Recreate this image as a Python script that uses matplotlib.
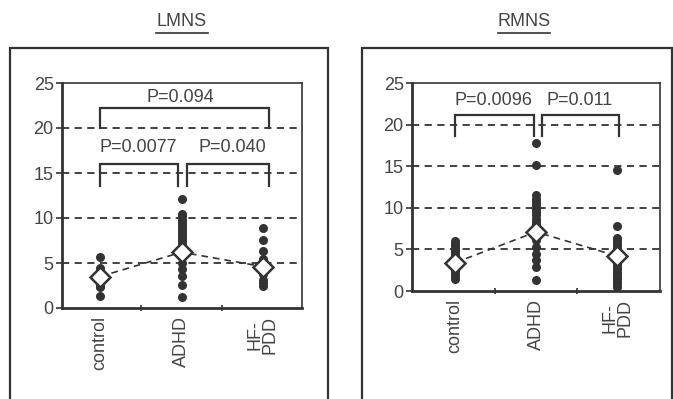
import matplotlib.pyplot as plt
from matplotlib.patches import Rectangle
from matplotlib.lines import Line2D

plt.rcParams['font.family'] = ['Liberation Sans', 'DejaVu Sans']

groups = ["control", "ADHD", "HF-\nPDD"]

# LMNS values
lmns_control = [5.7, 4.4, 4.0, 3.2, 2.8, 2.5, 2.3, 1.3]
lmns_adhd = [12.1, 10.5, 10.2, 9.8, 9.5, 9.2, 8.9, 8.6, 8.3, 8.0, 7.7, 7.4,
             7.1, 6.8, 6.5, 5.7, 5.0, 4.3, 3.6, 2.6, 1.2]
lmns_hfpdd = [8.9, 7.6, 6.3, 5.4, 3.8, 3.1, 2.8, 2.5]
lmns_means = [3.5, 6.2, 4.6]

# RMNS values
rmns_control = [6.0, 5.7, 5.4, 5.1, 4.8, 4.5, 4.2, 3.9, 3.6, 3.0, 2.7, 2.4,
                2.1, 1.8, 1.5]
rmns_adhd = [17.8, 15.2, 11.5, 11.1, 10.7, 10.3, 9.9, 9.5, 9.1, 8.7, 8.3,
             7.9, 6.1, 5.3, 4.5, 3.7, 2.9, 1.3]
rmns_hfpdd = [14.5, 7.8, 6.4, 6.1, 5.8, 5.5, 5.2, 4.9, 3.5, 3.2, 2.9, 2.6,
              2.3, 2.0, 1.7, 1.4, 1.1, 0.8, 0.5]
rmns_means = [3.4, 7.1, 4.2]

# brackets: (x_left, x_right, y_top, y_leg, label, label_x, label_y)
lmns_brackets = [(0.0, 2.07, 22.2, 20.0, "P=0.094", 0.99, 23.4),
                 (0.0, 0.95, 16.0, 13.6, "P=0.0077", 0.47, 17.8),
                 (1.07, 2.07, 16.0, 13.6, "P=0.040", 1.62, 17.8)]
rmns_brackets = [(0.0, 0.97, 21.2, 18.6, "P=0.0096", 0.47, 22.9),
                 (1.07, 2.02, 21.2, 18.6, "P=0.011", 1.54, 22.9)]

dark = "#333333"
txt = "#444444"
W, H = 673, 399
fig = plt.figure(figsize=(W / 100, H / 100), dpi=100)


def fbox(x0, y0, x1, y1):
    return [x0 / W, 1 - y1 / H, (x1 - x0) / W, (y1 - y0) / H]


def draw_panel(ax, data, means, brackets, xlim):
    for yv in [5, 10, 15, 20]:
        ax.axhline(yv, color=dark, lw=1.3, ls=(0, (4, 3)), zorder=1)
    for i, vals in enumerate(data):
        ax.plot([i] * len(vals), vals, "o", color=dark, ms=6.5, mew=0, zorder=3)
    ax.plot(range(3), means, color=dark, lw=1.2, ls=(0, (4, 3)), zorder=2)
    ax.plot(range(3), means, "D", color="white", mec=dark, mew=1.8, ms=10.5,
            zorder=4)
    for xl, xr, yt, yl, lab, lx, ly in brackets:
        ax.plot([xl, xl, xr, xr], [yl, yt, yt, yl], color=dark, lw=1.6,
                solid_joinstyle="miter", zorder=3)
        ax.text(lx, ly, lab, ha="center", va="center", fontsize=13, color=txt)
    ax.set_xlim(*xlim)
    ax.set_ylim(0, 25)
    ax.set_yticks([0, 5, 10, 15, 20, 25])
    ax.set_xticks(range(3))
    ax.set_xticklabels(groups, rotation=90, fontsize=13, color=txt,
                       linespacing=0.85)
    ax.set_xticks([0.5, 1.5], minor=True)
    ax.tick_params(axis="x", which="major", length=0, pad=6)
    ax.tick_params(axis="x", which="minor", length=4, direction="inout",
                   width=1.2, color=dark)
    ax.tick_params(axis="y", length=4, width=1.2, color=dark, labelsize=13,
                   labelcolor=txt, pad=2)
    for s in ["left", "bottom"]:
        ax.spines[s].set_linewidth(2)
        ax.spines[s].set_color(dark)
    for s in ["top", "right"]:
        ax.spines[s].set_linewidth(1.2)
        ax.spines[s].set_color(dark)


ax1 = fig.add_axes(fbox(62, 83, 302, 308))
draw_panel(ax1, [lmns_control, lmns_adhd, lmns_hfpdd], lmns_means,
           lmns_brackets, (-0.47, 2.48))
ax2 = fig.add_axes(fbox(412, 83, 660, 291))
draw_panel(ax2, [rmns_control, rmns_adhd, rmns_hfpdd], rmns_means,
           rmns_brackets, (-0.53, 2.53))

# outer frames
for x0, x1 in [(10, 328), (362, 672)]:
    fig.patches.append(Rectangle((x0 / W, -0.05), (x1 - x0) / W, 1.05 - 48 / H,
                                 transform=fig.transFigure, fill=False,
                                 ec=dark, lw=1.6))

# panel titles with underline
for name, cx, hw in [("LMNS", 182, 26), ("RMNS", 524, 26)]:
    fig.text(cx / W, 1 - 21 / H, name, ha="center", va="center", fontsize=13,
             color=txt)
    fig.lines.append(Line2D([(cx - hw) / W, (cx + hw) / W], [1 - 33 / H] * 2,
                            transform=fig.transFigure, color=dark, lw=1.2))

fig.savefig("out.png", dpi=100)
